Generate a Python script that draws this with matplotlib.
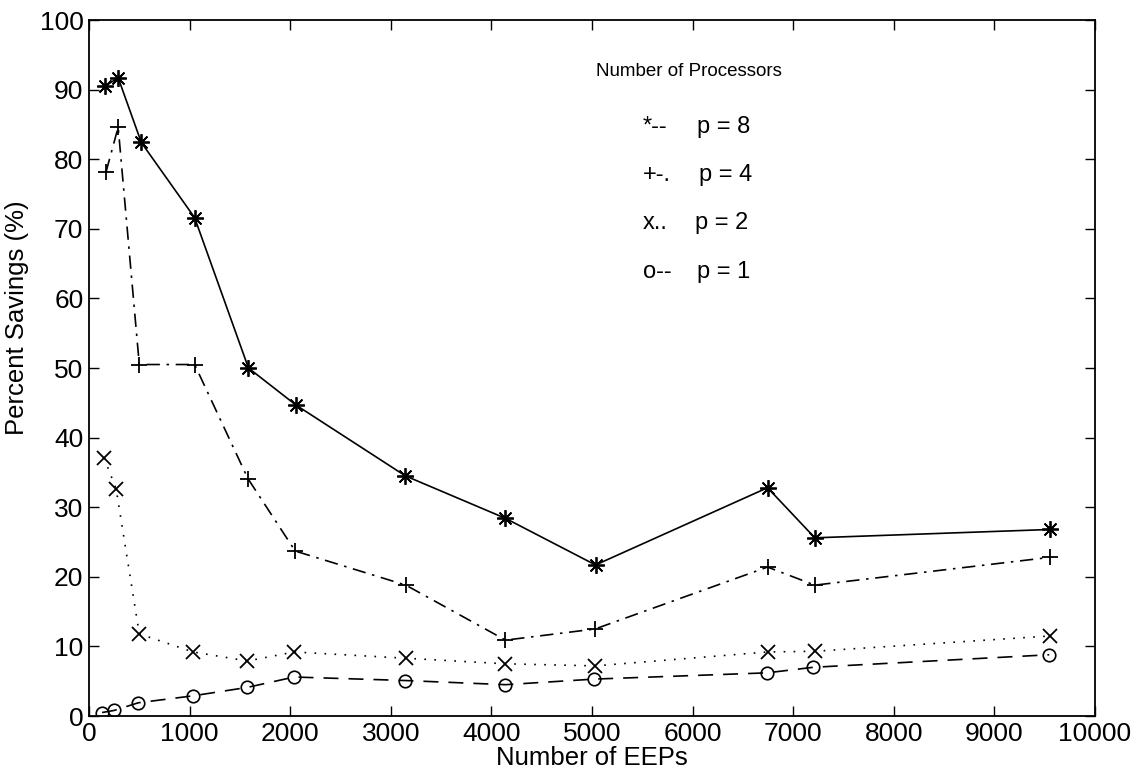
import matplotlib
matplotlib.use("Agg")
import matplotlib.pyplot as plt

plt.rcParams['font.family'] = ['Liberation Sans', 'DejaVu Sans']

# Data
x_p8 = [160, 290, 520, 1050, 1585, 2055, 3145, 4140, 5035, 6745, 7215, 9555]
y_p8 = [90.5, 91.7, 82.4, 71.6, 50.0, 44.7, 34.5, 28.4, 21.7, 32.8, 25.6, 26.8]

x_p4 = [170, 290, 500, 1050, 1580, 2050, 3150, 4140, 5030, 6745, 7215, 9555]
y_p4 = [78.2, 84.6, 50.5, 50.5, 34.1, 23.7, 18.8, 10.9, 12.5, 21.4, 18.8, 22.8]

x_p2 = [150, 270, 500, 1035, 1575, 2040, 3150, 4140, 5030, 6745, 7215, 9555]
y_p2 = [37.1, 32.6, 11.8, 9.2, 7.9, 9.2, 8.3, 7.5, 7.2, 9.2, 9.3, 11.5]

x_p1 = [130, 250, 490, 1035, 1570, 2040, 3140, 4140, 5020, 6740, 7200, 9545]
y_p1 = [0.5, 0.8, 1.9, 2.9, 4.1, 5.6, 5.1, 4.5, 5.3, 6.2, 7.0, 8.8]

xticks = list(range(0, 10001, 1000))
yticks = list(range(0, 101, 10))

legend_title = "Number of Processors"
legend_marks = ["*--", "+-.", "x..", "o--"]
legend_labels = ["p = 8", "p = 4", "p = 2", "p = 1"]

W, H = 1135, 771
fig = plt.figure(figsize=(W / 100, H / 100), dpi=100)
ax = fig.add_axes([89 / W, 1 - 716 / H, (1095 - 89) / W, (716 - 20) / H])

lw = 1.2
ax.plot(x_p8, y_p8, color='black', lw=lw, linestyle='-',
        marker=(8, 2, 0), markersize=12, markeredgewidth=1.3)
ax.plot(x_p4, y_p4, color='black', lw=lw, linestyle=(0, (8, 4, 1.5, 4)),
        marker='+', markersize=11, markeredgewidth=1.3)
ax.plot(x_p2, y_p2, color='black', lw=lw, linestyle=(0, (1, 5)),
        marker='x', markersize=10, markeredgewidth=1.3)
ax.plot(x_p1, y_p1, color='black', lw=lw, linestyle=(0, (9, 6)),
        marker='o', markersize=9, markerfacecolor='none', markeredgewidth=1.2)

ax.set_xlim(0, 10000)
ax.set_ylim(0, 100)
ax.set_xticks(xticks)
ax.set_yticks(yticks)
ax.tick_params(direction='in', length=7, width=1, top=True, right=True,
               labelsize=19, pad=4)
for s in ax.spines.values():
    s.set_linewidth(1.3)

ax.set_xlabel("Number of EEPs", fontsize=18.5, labelpad=0)
ax.set_ylabel("Percent Savings (%)", fontsize=18.5, labelpad=4)
ax.yaxis.set_label_coords(-0.06, 0.572)

def px(x, y):
    return x / W, 1 - y / H

fig.text(*px(596, 72), legend_title, fontsize=13.5, va='center', ha='left')
ys = [127, 175, 223, 272]
xs_lab = [697, 699, 695, 697]
for yy, xl, m, lab in zip(ys, xs_lab, legend_marks, legend_labels):
    fig.text(*px(643, yy), m, fontsize=17, va='center', ha='left')
    fig.text(*px(xl, yy), lab, fontsize=17, va='center', ha='left')

fig.savefig("out.png", dpi=100)
